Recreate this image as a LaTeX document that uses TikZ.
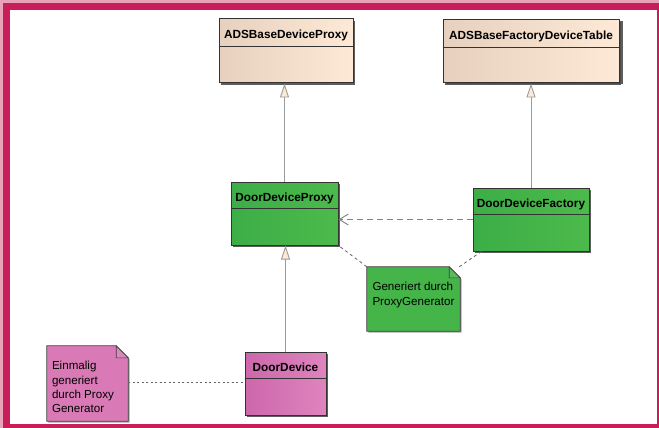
\documentclass[tikz,border=0pt]{standalone}
\usepackage{fontspec}
\setmainfont{Liberation Sans}
\usetikzlibrary{arrows.meta,shadows}

\definecolor{frameRed}{HTML}{C81F5B}
\definecolor{framePink}{HTML}{E9A3B8}
\definecolor{beigeL}{HTML}{E7D1BE}
\definecolor{beigeR}{HTML}{FDE9D6}
\definecolor{greenL}{HTML}{3CAE47}
\definecolor{greenR}{HTML}{4CBA4B}
\definecolor{greenNote}{HTML}{45B449}
\definecolor{pinkL}{HTML}{CC67AB}
\definecolor{pinkR}{HTML}{DF84BE}
\definecolor{pinkNote}{HTML}{D97AB6}
\definecolor{lineGray}{HTML}{9A9A9A}

\tikzset{
	cls/.style={draw=black!80, line width=1pt, inner sep=0pt,
		drop shadow={shadow xshift=2pt, shadow yshift=-2pt, fill=black!70, opacity=.9}},
	clsname/.style={font=\fontsize{11.8}{13}\selectfont\bfseries, inner sep=0pt, anchor=base},
	divider/.style={draw=black!80, line width=1pt},
	notebox/.style={draw=black!75, line width=0.8pt,
		drop shadow={shadow xshift=1.5pt, shadow yshift=-1.5pt, fill=black!50, opacity=.7}},
	noteline/.style={draw=black!75, line width=0.6pt},
	notetext/.style={font=\fontsize{11.6}{14.6}\selectfont, align=left, inner sep=0pt, anchor=north west},
	inherit/.style={draw=lineGray, line width=0.9pt, -{Triangle[length=14pt, width=9pt, fill=beigeR]}},
	depend/.style={draw=black!50, line width=0.9pt, dash pattern=on 6pt off 4pt,
		-{Straight Barb[length=9pt, width=11pt]}},
	notelink/.style={draw=black!60, line width=0.8pt, dash pattern=on 3pt off 3pt},
	oncelink/.style={draw=black!60, line width=0.8pt, dash pattern=on 2pt off 2.5pt}
}

\begin{document}
\begin{tikzpicture}[x=1pt, y=-1pt]
			%%%%% START %%%%%
			\useasboundingbox (0,0) rectangle (659,428);
			
			% frame
			\fill[framePink] (0,0) rectangle (659,428);
			\fill[frameRed] (3,3) rectangle (659,428);
			\fill[white] (10,10) rectangle (657,424);
			
			% classes
			\node[cls, left color=beigeL, right color=beigeR, minimum width=134pt, minimum height=64pt] (base) at (286,51) {};
			\node[clsname] (baseName) at ([yshift=-20.5pt]base.north) {ADSBaseDeviceProxy};
			\draw[divider] ([yshift=-28pt]base.north west) -- ([yshift=-28pt]base.north east);
			
			\node[cls, left color=beigeL, right color=beigeR, minimum width=176pt, minimum height=63pt,
				drop shadow={shadow xshift=3.5pt, shadow yshift=-1.5pt, fill=black!70, opacity=.9}] (table) at (531,51.5) {};
			\node[clsname] (tableName) at ([yshift=-20.5pt]table.north) {ADSBaseFactoryDeviceTable};
			\draw[divider] ([yshift=-28pt]table.north west) -- ([yshift=-28pt]table.north east);
			
			\node[cls, left color=greenL, right color=greenR, minimum width=107pt, minimum height=63pt] (proxy) at (284.5,213.5) {};
			\node[clsname] (proxyName) at ([yshift=-19.5pt]proxy.north) {DoorDeviceProxy};
			\draw[divider] ([yshift=-26.5pt]proxy.north west) -- ([yshift=-26.5pt]proxy.north east);
			
			\node[cls, left color=greenL, right color=greenR, minimum width=116pt, minimum height=63pt] (factory) at (531,219.5) {};
			\node[clsname] (factoryName) at ([yshift=-19.5pt]factory.north) {DoorDeviceFactory};
			\draw[divider] ([yshift=-27pt]factory.north west) -- ([yshift=-27pt]factory.north east);
			
			\node[cls, left color=pinkL, right color=pinkR, minimum width=81pt, minimum height=63pt] (device) at (285.5,383.5) {};
			\node[clsname] (deviceName) at ([yshift=-19.5pt]device.north) {DoorDevice};
			\draw[divider] ([yshift=-27pt]device.north west) -- ([yshift=-27pt]device.north east);
			
			% notes
			\node[minimum width=93pt, minimum height=64pt, inner sep=0pt] (gen) at (413.5,299) {};
			\draw[notebox, fill=greenNote] (gen.north west) -- ([xshift=-11pt]gen.north east) -- ([yshift=-11pt]gen.north east)
				-- (gen.south east) -- (gen.south west) -- cycle;
			\draw[noteline, fill=greenNote!90!white] ([xshift=-11pt]gen.north east) -- ([xshift=-11pt, yshift=-11pt]gen.north east)
				-- ([yshift=-11pt]gen.north east) -- cycle;
			\node[notetext] (genText) at ([xshift=5.5pt, yshift=-15pt]gen.north west) {Generiert durch\\ProxyGenerator};
			
			\node[minimum width=81pt, minimum height=75pt, inner sep=0pt] (once) at (87.5,383.5) {};
			\draw[notebox, fill=pinkNote] (once.north west) -- ([xshift=-12pt]once.north east) -- ([yshift=-12pt]once.north east)
				-- (once.south east) -- (once.south west) -- cycle;
			\draw[noteline, fill=pinkNote!90!white] ([xshift=-12pt]once.north east) -- ([xshift=-12pt, yshift=-12pt]once.north east)
				-- ([yshift=-12pt]once.north east) -- cycle;
			\node[notetext, font=\fontsize{11.6}{14.3}\selectfont] (onceText) at ([xshift=5pt, yshift=-15.5pt]once.north west) {Einmalig\\generiert\\durch Proxy\\Generator};
			
			% connectors
			\draw[inherit] (proxy.north) -- (proxy.north |- base.south);
			\draw[inherit] (factory.north) -- (factory.north |- table.south);
			\draw[inherit] (device.north) -- (device.north |- proxy.south);
			\draw[depend] (factory.west) -- (factory.west -| proxy.east);
			\draw[notelink] (gen.north west) -- (proxy.south east);
			\draw[notelink] ([xshift=-1pt]gen.north east) -- ([xshift=9pt]factory.south west);
			\draw[oncelink] (once.east |- 0,382) -- (device.west |- 0,382);
			
			%%%%% END %%%%%
\end{tikzpicture}
\end{document}
